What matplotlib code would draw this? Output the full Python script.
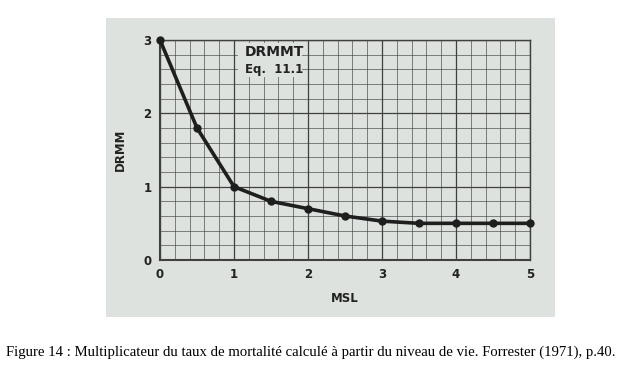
import matplotlib.pyplot as plt
from matplotlib.patches import Rectangle
import numpy as np

# MSL -> DRMM table (Forrester 1971, Eq. 11.1)
msl = [0, 0.5, 1, 1.5, 2, 2.5, 3, 3.5, 4, 4.5, 5]
drmm = [3.0, 1.8, 1.0, 0.8, 0.7, 0.6, 0.53, 0.5, 0.5, 0.5, 0.5]

x_ticks = [0, 1, 2, 3, 4, 5]
y_ticks = [0, 1, 2, 3]

panel_color = '#dde2de'
grid_color = '#404040'

fig = plt.figure(figsize=(6.21, 3.73), dpi=100)
W, H = 621, 373

# gray panel behind the chart
fig.add_artist(Rectangle((106 / W, 1 - 317 / H), (555 - 106) / W, (317 - 18) / H,
                         transform=fig.transFigure, facecolor=panel_color,
                         edgecolor='none', zorder=-5))

ax = fig.add_axes([160 / W, 1 - 260 / H, (530 - 160) / W, (260 - 40) / H])
ax.set_facecolor(panel_color)
ax.set_xlim(0, 5)
ax.set_ylim(0, 3)

ax.set_xticks(x_ticks)
ax.set_yticks(y_ticks)
ax.set_xticks(np.arange(0, 5.01, 0.2), minor=True)
ax.set_yticks(np.arange(0, 3.01, 0.2), minor=True)
ax.grid(which='major', color=grid_color, linewidth=0.9)
ax.grid(which='minor', color=grid_color, linewidth=0.55, alpha=0.8)
ax.tick_params(which='both', length=0, pad=6, labelsize=8.5, colors='#222222')
for lbl in ax.get_xticklabels() + ax.get_yticklabels():
    lbl.set_fontweight('bold')
for s in ax.spines.values():
    s.set_color(grid_color)
    s.set_linewidth(1.0)
ax.spines['left'].set_linewidth(1.5)
ax.spines['bottom'].set_linewidth(1.5)

# blank label area over the grid
ax.add_patch(Rectangle((1.06, 2.5), 0.86, 0.46, facecolor=panel_color,
                       edgecolor='none', zorder=2))

ax.plot(msl, drmm, color='#1e1e1e', linewidth=2.6, marker='o', markersize=5,
        clip_on=False, zorder=5)

ax.set_xlabel('MSL', fontsize=8.5, fontweight='bold', color='#222222', labelpad=8)
ax.set_ylabel('DRMM', fontsize=8.5, fontweight='bold', color='#222222', labelpad=12)

ax.text(1.15, 2.83, 'DRMMT', fontsize=10, fontweight='bold', color='#222222',
        va='center', ha='left', zorder=6)
ax.text(1.15, 2.6, 'Eq.  11.1', fontsize=8.5, fontweight='bold', color='#222222',
        va='center', ha='left', zorder=6)

fig.text(0.5, 1 - 352 / H,
         'Figure 14 : Multiplicateur du taux de mortalité calculé à partir du niveau de vie. '
         'Forrester (1971), p.40.',
         ha='center', va='center', fontsize=10.6, family='Liberation Serif')

fig.savefig('out.png', dpi=100)
